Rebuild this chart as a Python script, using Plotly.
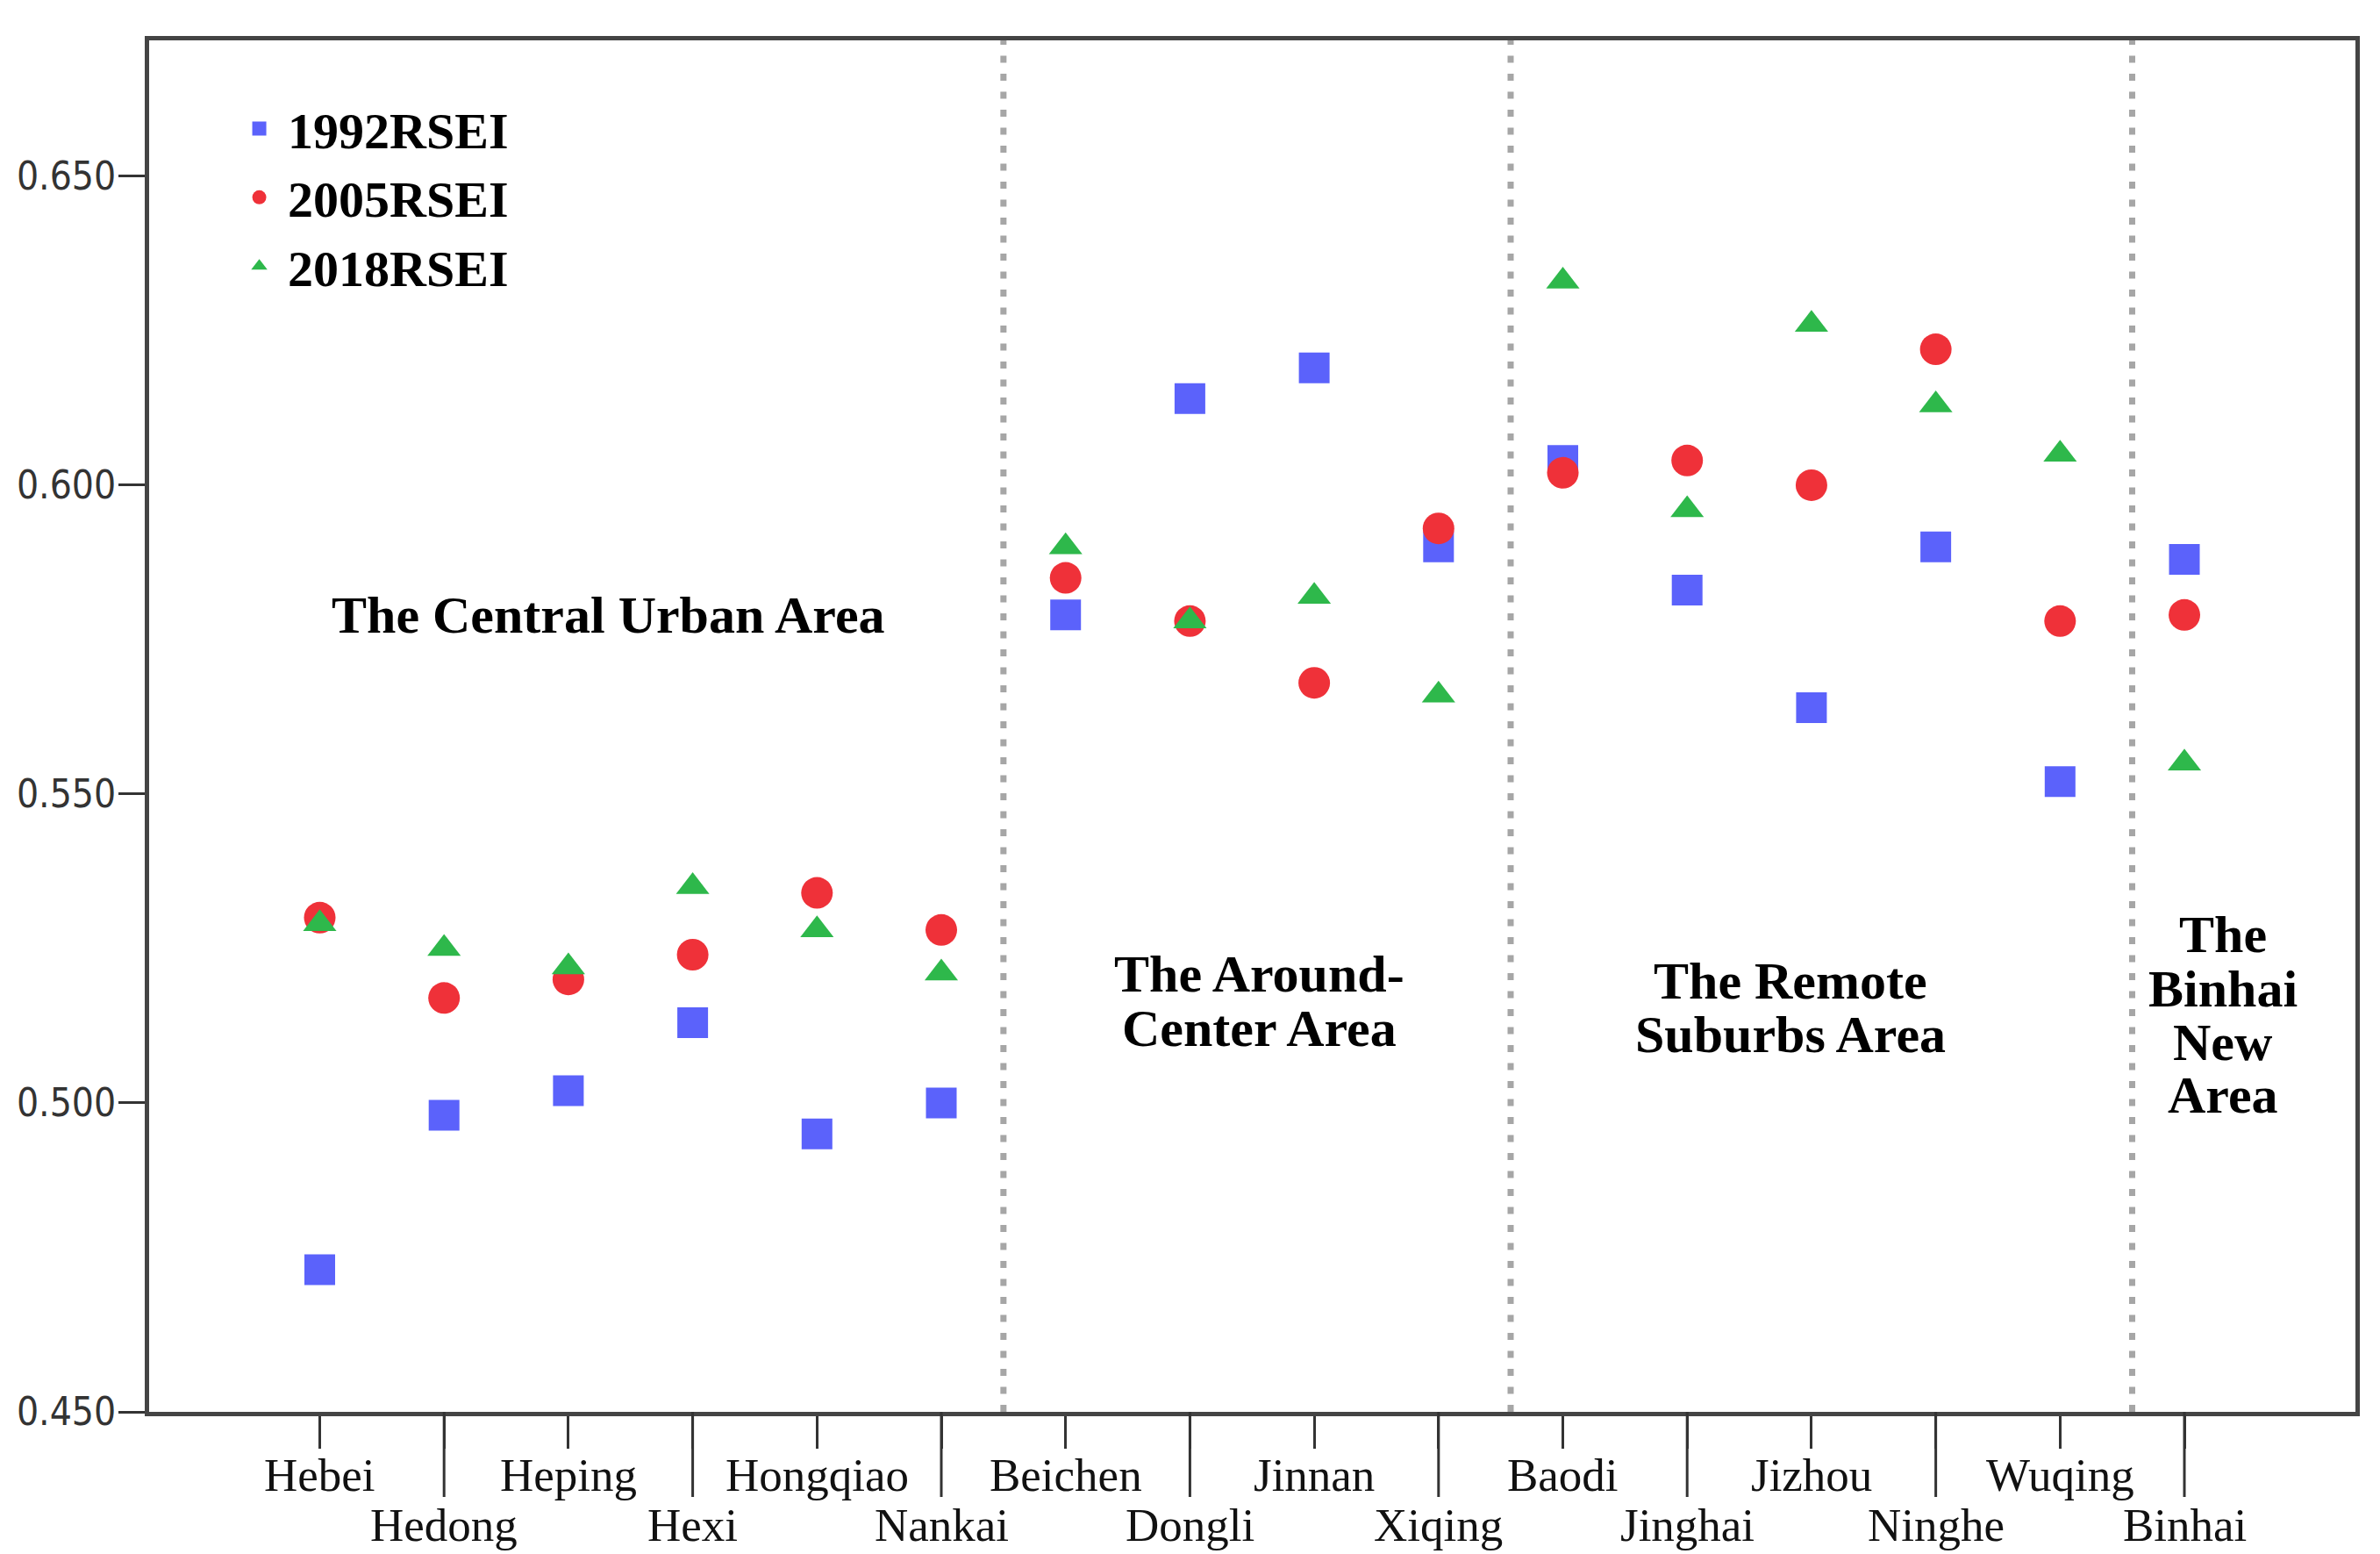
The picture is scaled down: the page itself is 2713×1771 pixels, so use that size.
import plotly.graph_objects as go

districts = ["Hebei", "Hedong", "Heping", "Hexi", "Hongqiao", "Nankai",
             "Beichen", "Dongli", "Jinnan", "Xiqing",
             "Baodi", "Jinghai", "Jizhou", "Ninghe", "Wuqing", "Binhai"]
rsei_1992 = [0.473, 0.498, 0.502, 0.513, 0.495, 0.500, 0.579, 0.614, 0.619, 0.590,
             0.604, 0.583, 0.564, 0.590, 0.552, 0.588]
rsei_2005 = [0.530, 0.517, 0.520, 0.524, 0.534, 0.528, 0.585, 0.578, 0.568, 0.593,
             0.602, 0.604, 0.600, 0.622, 0.578, 0.579]
rsei_2018 = [0.529, 0.525, 0.522, 0.535, 0.528, 0.521, 0.590, 0.578, 0.582, 0.566,
             0.633, 0.596, 0.626, 0.613, 0.605, 0.555]
y_ticks = [0.450, 0.500, 0.550, 0.600, 0.650]
dividers = [5.5, 9.58, 14.58]
# region labels: (x centre, y centres, text lines)
regions = [
    (2.32, [0.579], ["The Central Urban Area"]),
    (7.56, [0.5209, 0.5121], ["The Around-", "Center Area"]),
    (11.83, [0.5197, 0.5111], ["The Remote", "Suburbs Area"]),
    (15.31, [0.5272, 0.5185, 0.5098, 0.5013], ["The", "Binhai", "New", "Area"]),
]

x = list(range(len(districts)))
SERIF = "Liberation Serif, Times New Roman, serif"

fig = go.Figure()
fig.add_trace(go.Scatter(x=x, y=rsei_1992, mode="markers", name="1992RSEI",
                         marker=dict(symbol="square", size=35, color="#5B62FB", line=dict(width=0))))
fig.add_trace(go.Scatter(x=x, y=rsei_2005, mode="markers", name="2005RSEI",
                         marker=dict(symbol="circle", size=36, color="#EF3139", line=dict(width=0))))
fig.add_trace(go.Scatter(x=x, y=rsei_2018, mode="markers", name="2018RSEI",
                         marker=dict(symbol="triangle-up", size=33, color="#2EB84B", line=dict(width=0))))

shapes = []
for d in dividers:
    shapes.append(dict(type="line", xref="x", yref="paper", x0=d, x1=d, y0=0, y1=1,
                       line=dict(color="#A6A6A6", width=7, dash="8px,12.5px"), layer="below"))
for i in x:
    if i % 2 == 1:
        shapes.append(dict(type="line", xref="x", yref="paper", ysizemode="pixel", yanchor=0,
                           x0=i, x1=i, y0=0, y1=-97, line=dict(color="#333333", width=3)))

annotations = []
for i, name in enumerate(districts):
    annotations.append(dict(x=i, y=0, xref="x", yref="paper", text=name, showarrow=False,
                            xanchor="center", yanchor="middle",
                            yshift=-72 if i % 2 == 0 else -129,
                            font=dict(family=SERIF, size=53, color="#111111")))
for xc, ys, lines in regions:
    for yy, t in zip(ys, lines):
        annotations.append(dict(x=xc, y=yy, xref="x", yref="y", text="<b>%s</b>" % t,
                                showarrow=False, xanchor="center", yanchor="middle",
                                font=dict(family=SERIF, size=60, color="#000000")))

fig.update_layout(
    width=2705, height=1763, autosize=False,
    margin=dict(l=162, r=28, t=38, b=162, pad=0),
    paper_bgcolor="white", plot_bgcolor="white",
    showlegend=True,
    legend=dict(x=0.037, y=0.964, xanchor="left", yanchor="top",
                bgcolor="rgba(0,0,0,0)", itemwidth=55,
                font=dict(family=SERIF, size=58, color="#000000", weight="bold")),
    xaxis=dict(range=[-1.3726, 16.376], tickmode="array", tickvals=x, showticklabels=False,
               ticks="outside", ticklen=37, tickwidth=3, tickcolor="#333333",
               showline=True, mirror=True, linecolor="#444444", linewidth=5,
               showgrid=False, zeroline=False, automargin=False),
    yaxis=dict(range=[0.45, 0.672], tickmode="array", tickvals=y_ticks,
               ticktext=["%.3f" % v for v in y_ticks],
               ticks="outside", ticklen=30, tickwidth=3, tickcolor="#333333",
               ticklabelstandoff=-6,
               tickfont=dict(family="Liberation Sans Narrow, Arial Narrow, DejaVu Sans Condensed, sans-serif",
                             size=44, color="#333333"),
               showline=True, mirror=True, linecolor="#444444", linewidth=5,
               showgrid=False, zeroline=False, automargin=False),
    shapes=shapes, annotations=annotations,
)

fig.write_html("out.html")
